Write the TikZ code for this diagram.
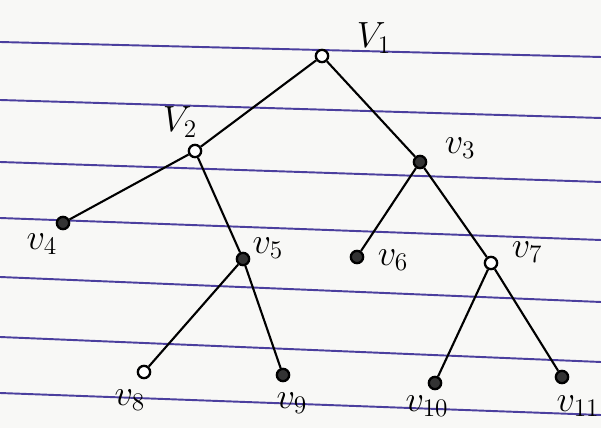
\documentclass[tikz,border=0pt]{standalone}
\usepackage{tikz}
\definecolor{ruleblue}{HTML}{4B3F9E}
\definecolor{paper}{HTML}{F8F8F6}
\tikzset{
  ruled line/.style={draw=ruleblue,line width=1.1pt},
  tree edge/.style={draw=black,line width=1.2pt},
  vertex/.style={circle,draw=black,line width=1.3pt,inner sep=0pt,minimum size=7pt,fill=white},
  vertex full/.style={vertex,fill=black!80},
  vertex label/.style={font=\huge}
}

\begin{document}
\begin{tikzpicture}[x=0.02cm,y=-0.02cm]
        \useasboundingbox (0,0) rectangle (601,428);
        \fill[paper] (0,0) rectangle (601,428);

        % ruled paper
        \foreach \yl/\yr in {42/57,100/118,162/182,218/240,277/302,337/362,393/415}
          \draw[ruled line] (0,\yl) -- (601,\yr);

        % vertices
        \node[vertex] (v1) at (322,56) {};
        \node[vertex] (v2) at (195,151) {};
        \node[vertex full] (v3) at (420,162) {};
        \node[vertex full] (v4) at (63,223) {};
        \node[vertex full] (v5) at (243,259) {};
        \node[vertex full] (v6) at (357,257) {};
        \node[vertex] (v7) at (491,263) {};
        \node[vertex] (v8) at (144,372) {};
        \node[vertex full] (v9) at (283,375) {};
        \node[vertex full] (v10) at (435,383) {};
        \node[vertex full] (v11) at (562,377) {};

        % labels
        \node[vertex label] (l1) at (374,38) {$V_1$};
        \node[vertex label] (l2) at (180,122) {$V_2$};
        \node[vertex label] (l3) at (460,148) {$v_3$};
        \node[vertex label] (l4) at (42,244) {$v_4$};
        \node[vertex label] (l5) at (268,248) {$v_5$};
        \node[vertex label] (l6) at (393,260) {$v_6$};
        \node[vertex label] (l7) at (527,252) {$v_7$};
        \node[vertex label] (l8) at (130,400) {$v_8$};
        \node[vertex label] (l9) at (292,403) {$v_9$};
        \node[vertex label] (l10) at (427,406) {$v_{10}$};
        \node[vertex label] (l11) at (578,406) {$v_{11}$};

        % edges
        \draw[tree edge] (v1) -- (v2);
        \draw[tree edge] (v1) -- (v3);
        \draw[tree edge] (v2) -- (v4);
        \draw[tree edge] (v2) -- (v5);
        \draw[tree edge] (v3) -- (v6);
        \draw[tree edge] (v3) -- (v7);
        \draw[tree edge] (v5) -- (v8);
        \draw[tree edge] (v5) -- (v9);
        \draw[tree edge] (v7) -- (v10);
        \draw[tree edge] (v7) -- (v11);
\end{tikzpicture}
\end{document}
